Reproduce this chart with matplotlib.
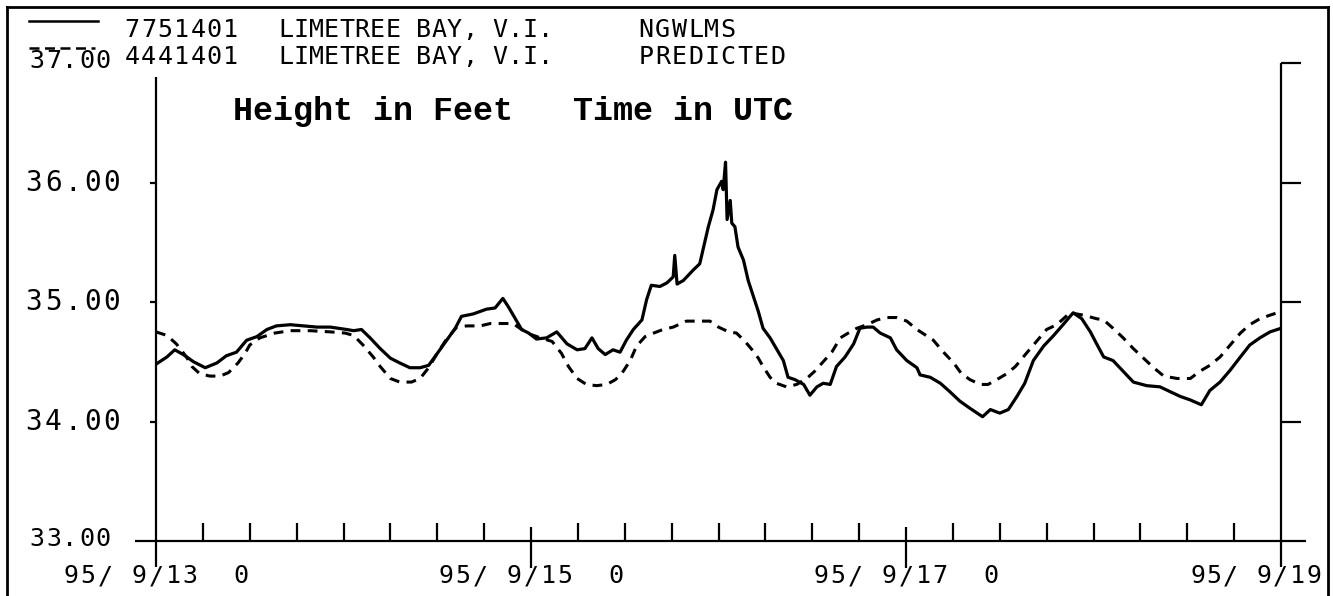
import matplotlib
matplotlib.use("Agg")
import matplotlib.pyplot as plt

# water level, hours from 95/9/13 00 UTC, feet
obs_hours = [0.0, 1.4, 2.4, 3.5, 4.8, 6.3, 7.8, 9.0, 10.3, 11.6, 12.9, 14.2, 15.4, 17.2,
             18.9, 20.6, 22.3, 24.4, 25.3, 26.3, 27.4, 28.7, 30.0, 31.2, 32.5, 33.8, 34.9,
             35.9, 37.2, 38.3, 39.1, 40.6, 42.3, 43.4, 44.4, 45.1, 46.0, 46.8, 47.7, 48.7,
             50.0, 51.3, 52.6, 53.9, 54.9, 55.8, 56.6, 57.5, 58.5, 59.4, 60.2, 61.1, 62.2,
             62.8, 63.4, 64.5, 65.4, 66.2, 66.4, 66.7, 67.5, 68.8, 69.6, 70.1, 70.7, 71.3,
             71.8, 72.4, 72.6, 72.9, 73.1, 73.5, 73.7, 74.1, 74.5, 75.2, 75.8, 76.5, 77.1,
             77.7, 78.6, 79.4, 80.3, 80.9, 81.8, 82.9, 83.7, 84.6, 85.4, 86.3, 87.1, 88.2,
             89.3, 90.1, 91.0, 91.8, 92.7, 94.0, 94.8, 96.1, 97.4, 97.8, 99.1, 100.4, 101.6,
             102.9, 104.2, 105.8, 106.8, 108.0, 109.1, 110.2, 111.2, 112.3, 113.6, 114.9,
             116.1, 117.4, 118.5, 119.6, 120.4, 121.3, 122.5, 123.8, 125.1, 126.8, 128.5,
             129.8, 131.1, 132.4, 133.8, 134.9, 136.2, 137.5, 138.8, 140.0, 141.3, 142.6, 144.0]
obs_feet = [34.48, 34.54, 34.60, 34.56, 34.50, 34.45, 34.49, 34.55, 34.58, 34.68, 34.71, 34.77,
            34.80, 34.81, 34.80, 34.79, 34.79, 34.77, 34.76, 34.77, 34.70, 34.61, 34.53, 34.49,
            34.45, 34.45, 34.47, 34.56, 34.68, 34.78, 34.88, 34.90, 34.94, 34.95, 35.03, 34.96,
            34.86, 34.77, 34.74, 34.69, 34.70, 34.75, 34.65, 34.60, 34.61, 34.70, 34.61, 34.56,
            34.60, 34.58, 34.68, 34.77, 34.85, 35.02, 35.14, 35.13, 35.16, 35.21, 35.39, 35.15,
            35.18, 35.27, 35.32, 35.46, 35.63, 35.77, 35.94, 36.01, 35.94, 36.17, 35.69, 35.85,
            35.66, 35.63, 35.46, 35.35, 35.18, 35.04, 34.92, 34.78, 34.70, 34.61, 34.51, 34.37,
            34.35, 34.31, 34.22, 34.29, 34.32, 34.31, 34.46, 34.54, 34.65, 34.78, 34.79, 34.79,
            34.74, 34.70, 34.60, 34.51, 34.45, 34.39, 34.37, 34.32, 34.25, 34.17, 34.11, 34.04,
            34.10, 34.07, 34.10, 34.21, 34.32, 34.51, 34.63, 34.72, 34.81, 34.91, 34.86, 34.75,
            34.65, 34.54, 34.51, 34.42, 34.33, 34.30, 34.29, 34.25, 34.21, 34.18, 34.14, 34.26,
            34.33, 34.43, 34.54, 34.64, 34.70, 34.75, 34.78]

pred_hours = [0.0, 1.4, 2.6, 3.9, 4.6, 5.6, 6.9, 8.2, 9.3, 10.5, 11.4, 12.0, 13.3, 15.2, 17.2,
              19.7, 22.3, 24.2, 25.3, 26.5, 27.8, 28.7, 30.0, 31.2, 32.7, 33.8, 34.9, 35.9,
              37.2, 38.5, 39.8, 41.5, 42.8, 44.0, 45.7, 46.8, 47.9, 49.2, 50.7, 51.9, 52.8,
              53.9, 55.1, 56.4, 57.7, 58.8, 59.6, 60.7, 61.5, 62.6, 63.7, 64.9, 66.2, 67.9,
              69.6, 70.9, 72.0, 73.3, 74.3, 75.4, 76.3, 77.1, 77.7, 78.6, 79.4, 80.7, 82.0,
              83.3, 84.3, 85.4, 86.5, 87.6, 88.6, 89.7, 91.0, 92.3, 93.5, 94.8, 96.1, 97.4,
              99.5, 100.8, 102.1, 103.1, 104.2, 105.5, 106.5, 107.6, 108.9, 110.0, 111.4,
              112.7, 114.0, 115.3, 117.0, 118.7, 120.4, 121.3, 122.5, 123.8, 125.1, 126.4,
              127.7, 129.0, 130.7, 132.4, 133.6, 134.9, 136.2, 137.5, 138.8, 140.0, 141.3,
              142.6, 144.0]
pred_feet = [34.75, 34.72, 34.65, 34.54, 34.46, 34.40, 34.38, 34.38, 34.41, 34.49, 34.57, 34.64,
             34.70, 34.74, 34.76, 34.76, 34.75, 34.74, 34.72, 34.64, 34.54, 34.46, 34.36, 34.33,
             34.33, 34.36, 34.45, 34.56, 34.69, 34.79, 34.80, 34.80, 34.82, 34.82, 34.82, 34.77,
             34.73, 34.70, 34.67, 34.57, 34.46, 34.36, 34.31, 34.30, 34.31, 34.35, 34.40, 34.51,
             34.63, 34.71, 34.74, 34.77, 34.79, 34.84, 34.84, 34.84, 34.79, 34.75, 34.74, 34.67,
             34.60, 34.53, 34.46, 34.37, 34.32, 34.29, 34.31, 34.36, 34.42, 34.50, 34.58, 34.70,
             34.74, 34.78, 34.81, 34.85, 34.87, 34.87, 34.84, 34.77, 34.68, 34.58, 34.49, 34.40,
             34.35, 34.31, 34.31, 34.35, 34.40, 34.46, 34.57, 34.67, 34.77, 34.81, 34.91, 34.89,
             34.86, 34.85, 34.78, 34.70, 34.61, 34.53, 34.45, 34.38, 34.36, 34.36, 34.42, 34.47,
             34.54, 34.64, 34.74, 34.81, 34.86, 34.89, 34.92]

y_ticks = [33, 34, 35, 36, 37]
y_labels = ["33.00", "34.00", "35.00", "36.00", "37.00"]
major_hours = [0, 48, 96, 144]
x_labels = ["95/ 9/13  0", "95/ 9/15  0", "95/ 9/17  0", "95/ 9/19"]
header_ids = ["7751401", "4441401"]
header_kind = ["NGWLMS", "PREDICTED"]

W, H = 1333, 596
fig = plt.figure(figsize=(W / 100, H / 100), dpi=100)


def fx(x):
    return x / W


def fy(y):
    return 1 - y / H


def mono_text(s, x0, y, pitch, size=18):
    # plotter style fixed pitch lettering, one glyph per cell
    for i, ch in enumerate(s):
        if ch != " ":
            fig.text(fx(x0 + (i + 0.5) * pitch), fy(y), ch, family="DejaVu Sans Mono",
                     fontsize=size, ha="center", va="center", color="black")


# plot area: hour 0 at x=156px, hour 144 at x=1281px, 33 ft at y=541px, 37 ft at y=63px
ax = fig.add_axes([fx(156), fy(541), fx(1281) - fx(156), fy(63) - fy(541)])
ax.set_xlim(0, 144)
ax.set_ylim(33, 37)
ax.axis("off")

k = dict(color="black", lw=1.6, clip_on=False, solid_capstyle="butt")
hx = 144 / 1125.0   # hours per pixel
fv = 4 / 478.0      # feet per pixel

ax.plot(obs_hours, obs_feet, color="black", lw=2.3, zorder=3)
ax.plot(pred_hours, pred_feet, color="black", lw=2.2, dashes=(3.2, 2.4), zorder=2)

# axis lines
ax.plot([-21 * hx, 1150 * hx], [33, 33], **k)
ax.plot([0, 0], [33 - 26 * fv, 37 - 14 * fv], **k)
ax.plot([144, 144], [33 - 26 * fv, 37], **k)
for h in range(6, 144, 6):
    if h % 48:
        ax.plot([h, h], [33, 33 + 18 * fv], **k)
for h in major_hours[1:-1]:
    ax.plot([h, h], [33 - 27 * fv, 33 + 14 * fv], **k)
for v in y_ticks[1:]:
    ax.plot([144, 144 + 20 * hx], [v, v], **k)
for v in y_ticks[1:-1]:
    ax.plot([0, -6 * hx], [v, v], **k)

for v, lab in zip(y_ticks, y_labels):
    yp = 541 - (v - 33) * 119.5
    if v in (33, 37):
        mono_text(lab, 29, yp - 2, 16.4)
    else:
        mono_text(lab, 24, yp, 19.5, size=20)

for h, lab in zip(major_hours, x_labels):
    xp = 156 + h / hx
    if h == 144:
        mono_text(lab, 1322 - len(lab) * 16.6, 576, 16.6)
    else:
        mono_text(lab, xp - len(lab) * 17.0 / 2, 576, 17.0)

# header: legend samples and station lines
fig.add_artist(plt.Line2D([fx(29), fx(98)], [fy(21), fy(21)], color="black", lw=1.8))
fig.add_artist(plt.Line2D([fx(29), fx(95)], [fy(48), fy(48)], color="black", lw=1.8,
                          dashes=(4, 2.2)))
for i, yp in enumerate([30, 57]):
    mono_text(header_ids[i], 124, yp, 16.4)
    mono_text("LIMETREE BAY, V.I.", 278, yp, 15.3)
    mono_text(header_kind[i], 638, yp, 16.4)

fig.text(fx(233), fy(112), "Height in Feet   Time in UTC", family="Liberation Mono",
         fontweight="bold", fontsize=24, ha="left", va="center")

# outer frame
for xs, ys in [([7, 7], [7, 600]), ([7, 1328], [7, 7]), ([1328, 1328], [7, 600])]:
    fig.add_artist(plt.Line2D([fx(xs[0]), fx(xs[1])], [fy(ys[0]), fy(ys[1])],
                              color="black", lw=2.0))

fig.savefig("out.png", dpi=100, facecolor="white")
